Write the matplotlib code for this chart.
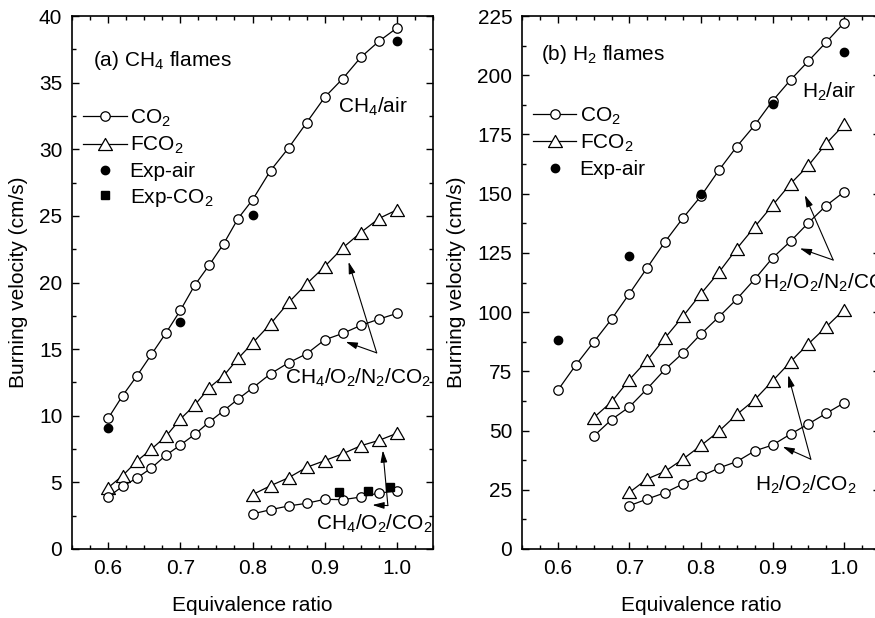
import matplotlib
matplotlib.use("Agg")
import matplotlib.pyplot as plt
from matplotlib.ticker import MultipleLocator
from matplotlib.lines import Line2D
from matplotlib.path import Path

plt.rcParams['font.family'] = ['Liberation Sans', 'DejaVu Sans']
plt.rcParams['mathtext.fontset'] = 'custom'
plt.rcParams['mathtext.rm'] = 'Liberation Sans'
plt.rcParams['mathtext.it'] = 'Liberation Sans:italic'

# ---- (a) CH4 flames ----
phi_a = [0.60, 0.62, 0.64, 0.66, 0.68, 0.70, 0.72, 0.74, 0.76, 0.78,
         0.80, 0.825, 0.85, 0.875, 0.90, 0.925, 0.95, 0.975, 1.00]
ch4_air_co2 = [9.8, 11.5, 13.0, 14.6, 16.2, 17.9, 19.8, 21.3, 22.9, 24.8,
               26.2, 28.4, 30.1, 32.0, 33.9, 35.3, 36.9, 38.1, 39.1]
ch4_n2_fco2 = [4.6, 5.5, 6.6, 7.5, 8.45, 9.75, 10.8, 12.1, 13.0, 14.3,
               15.45, 16.9, 18.5, 19.9, 21.2, 22.6, 23.75, 24.8, 25.45]
ch4_n2_co2 = [3.9, 4.7, 5.33, 6.08, 7.03, 7.8, 8.6, 9.53, 10.38, 11.25,
              12.08, 13.15, 13.98, 14.65, 15.7, 16.18, 16.78, 17.25, 17.68]
phi_a_o2 = [0.80, 0.825, 0.85, 0.875, 0.90, 0.925, 0.95, 0.975, 1.00]
ch4_o2_fco2 = [4.08, 4.75, 5.35, 6.13, 6.63, 7.15, 7.75, 8.15, 8.68]
ch4_o2_co2 = [2.63, 2.95, 3.23, 3.43, 3.73, 3.7, 3.9, 4.2, 4.35]
exp_air_phi_a = [0.6, 0.7, 0.8, 1.0]
exp_air_a = [9.05, 17.05, 25.1, 38.1]
exp_co2_phi = [0.92, 0.96, 0.99]
exp_co2_a = [4.25, 4.38, 4.68]

# ---- (b) H2 flames ----
phi_b = [0.60, 0.625, 0.65, 0.675, 0.70, 0.725, 0.75, 0.775, 0.80,
         0.825, 0.85, 0.875, 0.90, 0.925, 0.95, 0.975, 1.00]
h2_air_co2 = [67.0, 77.6, 87.3, 97.0, 107.8, 118.8, 129.8, 139.8, 149.0,
              159.9, 169.9, 178.9, 189.2, 198.0, 206.0, 214.0, 222.2]
phi_b_n2 = [0.65, 0.675, 0.70, 0.725, 0.75, 0.775, 0.80, 0.825, 0.85,
            0.875, 0.90, 0.925, 0.95, 0.975, 1.00]
h2_n2_fco2 = [55.4, 62.1, 71.5, 79.7, 89.2, 98.3, 107.8, 116.8, 126.8,
              136.0, 145.1, 154.2, 161.9, 171.2, 179.2]
h2_n2_co2 = [47.6, 54.6, 60.0, 67.7, 75.9, 82.8, 90.8, 98.0, 105.5,
             113.9, 122.9, 129.9, 137.7, 145.0, 150.8]
phi_b_o2 = [0.70, 0.725, 0.75, 0.775, 0.80, 0.825, 0.85, 0.875, 0.90,
            0.925, 0.95, 0.975, 1.00]
h2_o2_fco2 = [23.9, 29.6, 32.8, 38.0, 43.7, 49.7, 56.8, 63.0, 71.0,
              79.0, 86.6, 93.8, 101.1]
h2_o2_co2 = [18.3, 21.1, 23.8, 27.5, 30.7, 34.2, 36.9, 41.4, 43.9,
             48.5, 52.8, 57.3, 61.7]
exp_air_phi_b = [0.6, 0.7, 0.8, 0.9, 1.0]
exp_air_b = [88.2, 123.7, 149.9, 188.0, 209.9]

FS = 15
# flat triangle centred on its bounding box
tri = Path([(0, 0.433), (-0.5, -0.433), (0.5, -0.433), (0, 0.433)], closed=True)
circ_kw = dict(color='k', lw=0.9, marker='o', ms=6.8, mfc='white', mec='k', mew=0.9)
tri_kw = dict(color='k', lw=0.9, marker=tri, ms=10, mfc='white', mec='k', mew=0.9)

fig = plt.figure(figsize=(8.75, 6.18), dpi=100)
ax1 = fig.add_axes([72 / 875, 69 / 618, 361 / 875, 533 / 618])
ax2 = fig.add_axes([522 / 875, 69 / 618, 358 / 875, 533 / 618])


def style(ax, ylim, major, minor):
    ax.set_xlim(0.55, 1.05)
    ax.set_ylim(*ylim)
    ax.xaxis.set_major_locator(MultipleLocator(0.1))
    ax.xaxis.set_minor_locator(MultipleLocator(0.025))
    ax.yaxis.set_major_locator(MultipleLocator(major))
    ax.yaxis.set_minor_locator(MultipleLocator(minor))
    ax.xaxis.set_major_formatter(matplotlib.ticker.FormatStrFormatter('%.1f'))
    ax.tick_params(which='both', direction='in', top=True, right=True,
                   labelsize=FS, width=1.0)
    ax.tick_params(which='major', length=5, pad=7)
    ax.tick_params(which='minor', length=3)
    for s in ax.spines.values():
        s.set_linewidth(1.2)
    ax.set_xlabel('Equivalence ratio', fontsize=FS, labelpad=13)
    ax.set_ylabel('Burning velocity (cm/s)', fontsize=FS, labelpad=8)


def arrow(ax, start, tip):
    ax.annotate('', xy=tip, xytext=start,
                arrowprops=dict(arrowstyle='-|>,head_length=0.7,head_width=0.2',
                                color='k', lw=0.8, shrinkA=0, shrinkB=0))


# panel (a)
ax1.plot(phi_a, ch4_air_co2, **circ_kw)
ax1.plot(phi_a, ch4_n2_fco2, **tri_kw)
ax1.plot(phi_a, ch4_n2_co2, **circ_kw)
ax1.plot(phi_a_o2, ch4_o2_fco2, **tri_kw)
ax1.plot(phi_a_o2, ch4_o2_co2, **circ_kw)
ax1.plot(exp_air_phi_a, exp_air_a, 'o', color='k', ms=6)
ax1.plot(exp_co2_phi, exp_co2_a, 's', color='k', ms=5.5)
style(ax1, (0, 40), 5, 2.5)

ax1.text(0.058, 0.917, r'(a) CH$_4$ flames', transform=ax1.transAxes,
         fontsize=FS, va='center', ha='left')
ax1.text(0.919, 33.2, r'CH$_4$/air', fontsize=FS, va='center', ha='left')
ax1.text(0.845, 12.85, r'CH$_4$/O$_2$/N$_2$/CO$_2$', fontsize=FS, va='center', ha='left')
ax1.text(0.8885, 1.9, r'CH$_4$/O$_2$/CO$_2$', fontsize=FS, va='center', ha='left')
arrow(ax1, (0.972, 14.72), (0.933, 21.55))
arrow(ax1, (0.972, 14.72), (0.929, 15.55))
arrow(ax1, (0.9875, 3.26), (0.9805, 7.4))
arrow(ax1, (0.9875, 3.26), (0.966, 3.3))

handles_a = [Line2D([], [], **circ_kw), Line2D([], [], **tri_kw),
             Line2D([], [], ls='none', marker='o', color='k', ms=6),
             Line2D([], [], ls='none', marker='s', color='k', ms=5.5)]
labels_a = [r'CO$_2$', r'FCO$_2$', 'Exp-air', r'Exp-CO$_2$']
ax1.legend(handles_a, labels_a, loc='upper left', bbox_to_anchor=(0.03, 0.828),
           frameon=False, fontsize=FS, handlelength=2.1, handletextpad=0.15,
           labelspacing=0.28, numpoints=1, borderpad=0, borderaxespad=0)

# panel (b)
ax2.plot(phi_b, h2_air_co2, **circ_kw)
ax2.plot(phi_b_n2, h2_n2_fco2, **tri_kw)
ax2.plot(phi_b_n2, h2_n2_co2, **circ_kw)
ax2.plot(phi_b_o2, h2_o2_fco2, **tri_kw)
ax2.plot(phi_b_o2, h2_o2_co2, **circ_kw)
ax2.plot(exp_air_phi_b, exp_air_b, 'o', color='k', ms=6)
style(ax2, (0, 225), 25, 12.5)

ax2.text(0.053, 0.927, r'(b) H$_2$ flames', transform=ax2.transAxes,
         fontsize=FS, va='center', ha='left')
ax2.text(0.9405, 193, r'H$_2$/air', fontsize=FS, va='center', ha='left')
ax2.text(0.886, 112.3, r'H$_2$/O$_2$/N$_2$/CO$_2$', fontsize=FS, va='center', ha='left')
ax2.text(0.875, 27.0, r'H$_2$/O$_2$/CO$_2$', fontsize=FS, va='center', ha='left')
arrow(ax2, (0.9846, 122.0), (0.945, 149.4))
arrow(ax2, (0.9846, 122.0), (0.938, 126.9))
arrow(ax2, (0.9534, 37.9), (0.9218, 73.4))
arrow(ax2, (0.9534, 37.9), (0.914, 43.2))

handles_b = handles_a[:3]
labels_b = labels_a[:3]
ax2.legend(handles_b, labels_b, loc='upper left', bbox_to_anchor=(0.03, 0.832),
           frameon=False, fontsize=FS, handlelength=2.1, handletextpad=0.15,
           labelspacing=0.28, numpoints=1, borderpad=0, borderaxespad=0)

fig.savefig('out.png', dpi=100)
